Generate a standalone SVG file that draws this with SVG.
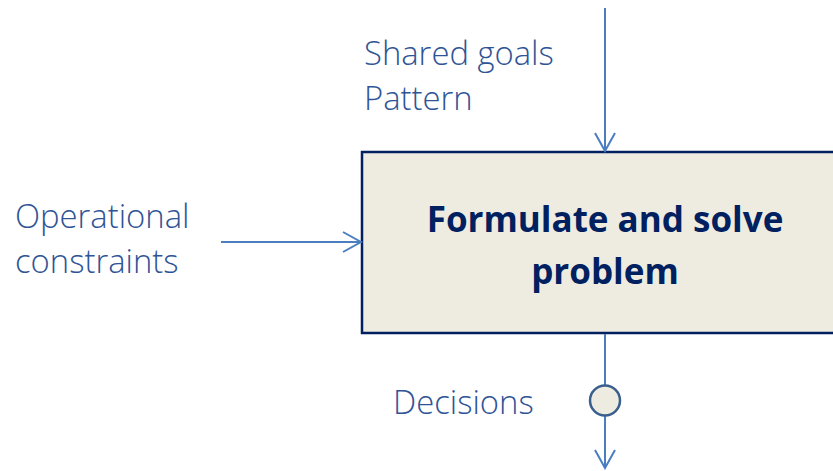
<svg xmlns="http://www.w3.org/2000/svg" width="833" height="471" viewBox="0 0 833 471">
<style>
.lbl{font-family:"Open Sans","Liberation Sans",sans-serif;font-size:32.8px;fill:#2F5496;font-weight:300}
.ttl{font-family:"Open Sans","Liberation Sans",sans-serif;font-size:35px;font-weight:bold;fill:#002060;text-anchor:middle}
.con{stroke:#4A7EC0;stroke-width:2;fill:none}
</style>
<defs>
<marker id="arr" viewBox="0 0 22 24" refX="20" refY="12" markerWidth="22" markerHeight="24" markerUnits="userSpaceOnUse" orient="auto">
<path d="M2,2 L20,12 L2,22" fill="none" stroke="#4A7EC0" stroke-width="2"/>
</marker>
</defs>
<rect width="833" height="471" fill="#ffffff"/>
<g id="box">
<rect x="362" y="152" width="475" height="181" fill="#EEEBE0" stroke="#002060" stroke-width="2.5"/>
<text class="ttl" x="605" y="232">Formulate and solve</text>
<text class="ttl" x="605" y="284">problem</text>
</g>
<g id="connectors">
<line class="con" x1="605" y1="8" x2="605" y2="151" marker-end="url(#arr)"/>
<line class="con" x1="221" y1="242" x2="361" y2="242" marker-end="url(#arr)"/>
<line class="con" x1="605" y1="334" x2="605" y2="385"/>
<line class="con" x1="605" y1="416" x2="605" y2="468" marker-end="url(#arr)"/>
</g>
<g id="decision-point">
<circle cx="605" cy="400.5" r="15" fill="#EEEBE0" stroke="#3A5F8F" stroke-width="2.5"/>
</g>
<g id="labels">
<text class="lbl" x="364" y="65">Shared goals</text>
<text class="lbl" x="364" y="110">Pattern</text>
<text class="lbl" x="15" y="228">Operational</text>
<text class="lbl" x="15" y="273">constraints</text>
<text class="lbl" x="393" y="414">Decisions</text>
</g>
</svg>
